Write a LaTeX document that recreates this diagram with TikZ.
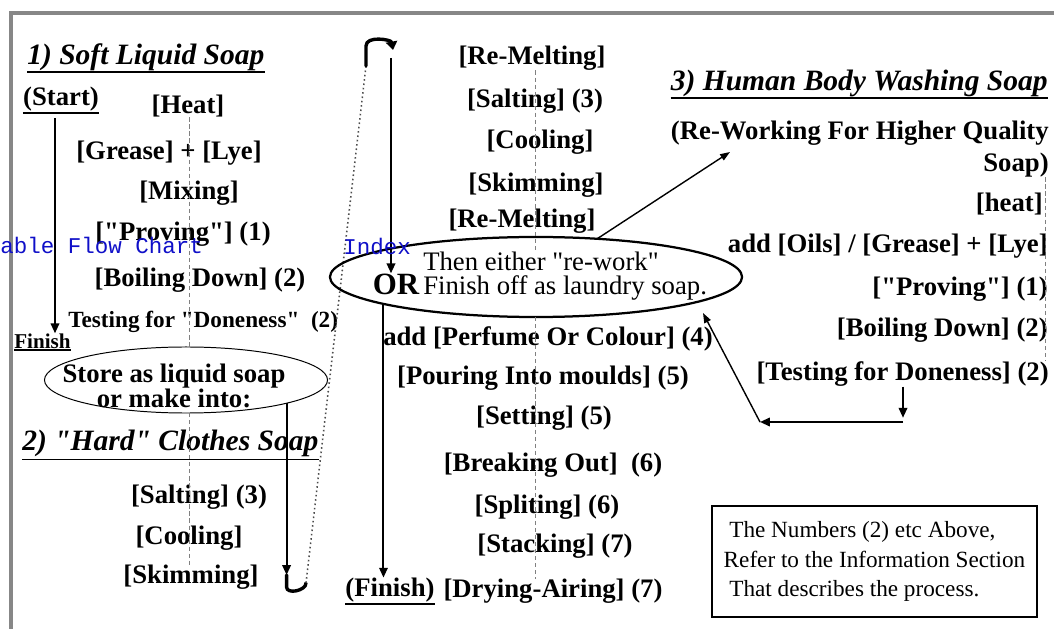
\documentclass[tikz,border=0pt]{standalone}
\usepackage{fontspec}
\setmainfont{Liberation Serif}[Ligatures=TeXOff]
\newfontfamily\linkfont{Liberation Mono}
\usepackage{tikz}
\usetikzlibrary{arrows.meta,positioning,calc,shapes.geometric}
\definecolor{linkblue}{RGB}{15,15,200}
\definecolor{framegray}{RGB}{135,135,135}

\begin{document}
\begin{tikzpicture}[
  x=0.025cm, y=-0.025cm,
  stage/.style={font=\fontsize{19}{22}\selectfont\bfseries, inner sep=0pt},
  smallstage/.style={font=\fontsize{16.5}{19}\selectfont\bfseries, inner sep=0pt},
  plain/.style={font=\fontsize{19}{17}\selectfont, inner sep=0pt, align=left},
  heading/.style={font=\fontsize{21}{24}\selectfont\bfseries\itshape, inner sep=0pt},
  linktext/.style={font=\linkfont\fontsize{16}{18}\selectfont, text=linkblue, inner sep=0pt, anchor=west},
  ul/.style={line width=1.2pt},
  colline/.style={draw=gray, densely dashed, line width=0.6pt},
  flow/.style={line width=1.4pt, -{Triangle[length=7pt,width=6pt]}},
  thinflow/.style={line width=1pt, -{Triangle[length=7pt,width=5pt]}},
  hookline/.style={line width=2.4pt, line cap=round},
  loopback/.style={draw=gray!60!black, dotted, line width=1.1pt},
  oval/.style={draw, ellipse, inner sep=0pt, outer sep=0pt}
]
\useasboundingbox (0,0) rectangle (1054,629);
\draw[framegray, line width=2.2pt] (1054,13) -- (11,13) -- (11,629);

\coordinate (leftaxis) at (189,0);
\coordinate (midaxis) at (535,0);
\coordinate (rightaxis) at (1045,0);

% 1) soft liquid soap
\node[heading, anchor=west] (head1) at (27,57) {1) Soft Liquid Soap};
\draw[ul] ([yshift=-1pt]head1.south west) -- ([yshift=-1pt]head1.south east);
\node[stage] (start) at (61,99) {(Start)};
\draw[line width=1pt] ([yshift=-1pt]start.south west) -- ([yshift=-1pt]start.south east);
\foreach \nm/\xc/\yc/\txt in {heat/188/106/{[Heat]}, grease/169/153/{[Grease] + [Lye]}, mixing/189/193/{[Mixing]}, provingL/183/234/{["Proving"] (1)}, boilingL/200/280/{[Boiling Down] (2)}} {
  \node[stage] (\nm) at (\xc,\yc) {\txt};
}
\node[smallstage, anchor=west] (testingL) at (68,322) {Testing for "Doneness"\ \ (2)};
\node[smallstage, font=\fontsize{15}{18}\selectfont\bfseries, anchor=west] (finishA) at (14,341) {Finish};
\draw[line width=1pt] ([yshift=-1pt]finishA.south west) -- ([yshift=-1pt]finishA.south east);
\coordinate (startdrop) at ($(start.south)+(-6,7)$);
\draw[flow] (startdrop) -- (startdrop |- finishA.north);

\node[oval, line width=0.7pt, minimum width=7.075cm, minimum height=1.65cm] (store) at (186,380) {};
\node[stage, font=\fontsize{19}{16}\selectfont\bfseries, align=center] (storetext) at (174,386) {Store as liquid soap\\ or make into:};
\draw[colline] (leftaxis |- heat.south) -- (leftaxis |- store.north);

% 2) hard clothes soap
\node[heading, anchor=west] (head2) at (22,443) {2) "Hard" Clothes Soap};
\draw[ul] ([yshift=-2pt]head2.south west) -- ([yshift=-2pt]head2.south east);
\foreach \nm/\xc/\yc/\txt in {saltingL/199/497/{[Salting] (3)}, coolingL/189/538/{[Cooling]}, skimmingL/191/577/{[Skimming]}} {
  \node[stage] (\nm) at (\xc,\yc) {\txt};
}
\draw[colline] (leftaxis |- store.south) -- (leftaxis |- skimmingL.north);

% back to the top of the next column
\coordinate (lowdrop) at (287,575);
\coordinate (lowturn) at (306,583);
\coordinate (highturn) at (366,66);
\coordinate (dropin) at (393,50);
\coordinate (dropstart) at (391,58);
\draw[flow] (store.-13) -- (store.-13 |- lowdrop);
\draw[hookline] (store.-13 |- lowdrop) -- ++(0,12) to[out=-90,in=-90] (lowturn);
\draw[loopback] (lowturn) -- (highturn);
\draw[hookline, -{Triangle[length=6pt,width=8pt]}] (highturn) -- ++(0,-20) to[out=90,in=100] (dropin);

% re-melting column
\foreach \nm/\xc/\yc/\txt in {remeltA/532/58/{[Re-Melting]}, saltingM/535/101/{[Salting] (3)}, coolingM/540/142/{[Cooling]}, skimmingM/536/185/{[Skimming]}, remeltB/522/221/{[Re-Melting]}} {
  \node[stage] (\nm) at (\xc,\yc) {\txt};
}
\node[oval, line width=1.6pt, minimum width=10.3cm, minimum height=2cm] (choice) at (536,277) {};
\node[font=\fontsize{22}{24}\selectfont\bfseries, inner sep=0pt] (orword) at (396,284) {OR};
\node[plain, anchor=west] (choicetext) at (423,276) {Then either "re-work"\\Finish off as laundry soap.};
\draw[flow] (dropstart) -- (dropstart |- orword.north);
\draw[colline] (midaxis |- remeltA.south) -- (midaxis |- choicetext.north);

\node[stage, anchor=west] (perfume) at (383,339) {add [Perfume Or Colour] (4)};
\foreach \nm/\xc/\yc/\txt in {pouring/543/378/{[Pouring Into moulds] (5)}, setting/544/418/{[Setting] (5)}, breaking/553/465/{[Breaking Out]\ \ (6)}, spliting/547/507/{[Spliting] (6)}, stacking/555/546/{[Stacking] (7)}, drying/553/591/{[Drying-Airing] (7)}} {
  \node[stage] (\nm) at (\xc,\yc) {\txt};
}
\draw[colline] (midaxis |- choice.south) -- (midaxis |- drying.north);
\node[stage] (finishB) at (390,590) {(Finish)};
\draw[line width=1pt] ([yshift=-1pt]finishB.south west) -- ([yshift=-1pt]finishB.south east);
\draw[flow] (choice.-170) -- (choice.-170 |- finishB.north);

% 3) human body washing soap
\node[heading, anchor=east] (head3) at (1048,83) {3) Human Body Washing Soap};
\draw[ul] ([yshift=-1pt]head3.south west) -- ([yshift=-1pt]head3.south east);
\node[stage, anchor=east] (reworkA) at (1049,133) {(Re-Working For Higher Quality};
\node[stage, anchor=east] (reworkB) at (1049,165) {Soap)};
\foreach \nm/\xc/\yc/\txt in {heatR/1043/204/{[heat]}, oilsR/1048/246/{add [Oils] / [Grease] + [Lye]}, provingR/1048/289/{["Proving"] (1)}, boilingR/1048/330/{[Boiling Down] (2)}, testingR/1049/374/{[Testing for Doneness] (2)}} {
  \node[stage, anchor=east] (\nm) at (\xc,\yc) {\txt};
}
\draw[colline] (rightaxis |- reworkB.south) -- (rightaxis |- testingR.north);

\coordinate (reworkin) at (730,152);
\coordinate (turnR) at (903,422);
\coordinate (turnL) at (760,422);
\coordinate (backin) at (703,313);
\draw[thinflow] (choice.32) -- (reworkin);
\draw[flow, shorten >=3pt] (turnR |- testingR.south) -- (turnR);
\draw[flow] (turnR) -- (turnL);
\draw[thinflow] (turnL) -- (backin);

\node[draw, line width=0.8pt, minimum width=8.125cm, minimum height=2.775cm, inner sep=0pt, align=left, font=\fontsize{16.5}{21}\selectfont] (notebox) at (874.5,561.5) {\hspace*{4pt}The Numbers (2) etc Above,\\Refer to the Information Section\\\hspace*{4pt}That describes the process.};

\node[linktext] (linkA) at (0,245) {able Flow Chart};
\node[linktext] (linkB) at (343,246) {Index};
\end{tikzpicture}
\end{document}
